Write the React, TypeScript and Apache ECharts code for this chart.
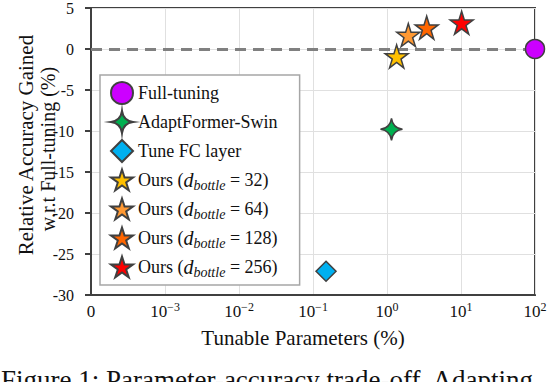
import React, { useEffect, useRef } from "react";
import * as echarts from "echarts";

const seriesNames = [
  "Full-tuning",
  "AdaptFormer-Swin",
  "Tune FC layer",
  "Ours (d_bottle = 32)",
  "Ours (d_bottle = 64)",
  "Ours (d_bottle = 128)",
  "Ours (d_bottle = 256)",
];
const tunableParams = [100, 1.15, 0.15, 1.35, 1.94, 3.44, 10.2];
const accuracyGained = [0, -9.8, -27.1, -0.9, 1.7, 2.6, 3.2];
const colors = ["#cc00ff", "#00b050", "#00b0f0", "#ffc000", "#ff9933", "#ff6600", "#ff0000"];
const symbolKinds = ["circle", "star4", "diamond", "star5", "star5", "star5", "star5"];
const yTicks = [-30, -25, -20, -15, -10, -5, 0, 5];
const xTickExponents = [null, -3, -2, -1, 0, 1, 2];

const STAR5 =
  "path://M50 0 L61.17 34.63 L97.55 34.55 L68.07 55.87 L79.39 90.45 L50 69 L20.61 90.45 L31.93 55.87 L2.45 34.55 L38.83 34.63 Z";
const STAR4 = "path://M50 0 Q56 44 100 50 Q56 56 50 100 Q44 56 0 50 Q44 44 50 0 Z";

const SERIF = "Liberation Serif, Times New Roman, serif";

// symlog-like position: 0 -> 0, 10^-3 -> 1, ..., 10^2 -> 6
const toPos = (v: number) => (v === 0 ? 0 : Math.log10(v) + 4);

export default function App() {
  const ref = useRef<HTMLDivElement>(null);
  useEffect(() => {
    if (!ref.current) return;
    const chart = echarts.init(ref.current, undefined, { renderer: "svg" });
    const symbolFor = (k: string) => (k === "star5" ? STAR5 : k === "star4" ? STAR4 : k);
    const sizeFor = (k: string) => (k === "circle" ? 19 : k === "diamond" ? 20 : k === "star4" ? 22 : 23);
    const series: any[] = seriesNames.map((name, i) => ({
      name,
      type: "scatter",
      data: [[toPos(tunableParams[i]), accuracyGained[i]]],
      symbol: symbolFor(symbolKinds[i]),
      symbolSize: sizeFor(symbolKinds[i]),
      itemStyle: { color: colors[i], borderColor: "#404040", borderWidth: 1.5, opacity: 1 },
      clip: false,
      z: 5,
    }));
    series[0].markLine = {
      silent: true,
      symbol: "none",
      label: { show: false },
      lineStyle: { type: [11, 7], color: "#808080", width: 3 },
      data: [{ yAxis: 0 }],
      z: 3,
    };
    chart.setOption({
      animation: false,
      textStyle: { fontFamily: SERIF },
      grid: {
        left: 91,
        right: 15,
        top: 6,
        bottom: 87,
        show: true,
        borderColor: "#404040",
        borderWidth: 2,
        containLabel: false,
      },
      xAxis: {
        type: "value",
        min: 0,
        max: 6,
        interval: 1,
        axisLine: { show: true, onZero: false, lineStyle: { color: "#404040", width: 2 } },
        axisTick: { show: false },
        splitLine: { show: true, lineStyle: { color: "#e0e0e0", width: 1 } },
        axisLabel: {
          margin: 6,
          color: "#111",
          fontFamily: SERIF,
          formatter: (v: number) => {
            const e = xTickExponents[Math.round(v)];
            if (e === null || e === undefined) return "{b|0}";
            return `{b|10}{s|${e < 0 ? "\u2212" : ""}${Math.abs(e)}}`;
          },
          rich: {
            b: { fontFamily: SERIF, fontSize: 17, color: "#111", lineHeight: 19, verticalAlign: "bottom" },
            s: { fontFamily: SERIF, fontSize: 12, color: "#111", lineHeight: 19, verticalAlign: "top" },
          },
        },
      },
      yAxis: {
        type: "value",
        min: yTicks[0],
        max: yTicks[yTicks.length - 1],
        interval: 5,
        axisLine: { show: true, lineStyle: { color: "#404040", width: 2 } },
        axisTick: { show: true, length: 6, inside: false, lineStyle: { color: "#404040", width: 2 } },
        splitLine: { show: true, lineStyle: { color: "#e0e0e0", width: 1 } },
        axisLabel: {
          margin: 17,
          color: "#111",
          fontFamily: SERIF,
          fontSize: 16,
          formatter: (v: number) => String(v),
        },
      },
      legend: {
        orient: "vertical",
        left: 100,
        top: 75,
        padding: [6, 22, 6, 10],
        itemWidth: 22,
        itemHeight: 22,
        itemGap: 5,
        backgroundColor: "#ffffff",
        borderColor: "#a6a6a6",
        borderWidth: 1.5,
        borderRadius: 0,
        data: seriesNames,
        formatter: (name: string) => name.replace("d_bottle", "{it|d}{sub|bottle}"),
        textStyle: {
          fontFamily: SERIF,
          fontSize: 18,
          color: "#111",
          lineHeight: 24,
          rich: {
            it: { fontFamily: SERIF, fontStyle: "italic", fontSize: 20, color: "#111", lineHeight: 24 },
            sub: {
              fontFamily: SERIF,
              fontStyle: "italic",
              fontSize: 14,
              color: "#111",
              lineHeight: 14,
              verticalAlign: "bottom",
            },
          },
        },
        z: 10,
      },
      graphic: [
        {
          type: "text",
          x: 26,
          y: 145,
          rotation: Math.PI / 2,
          style: {
            text: "Relative Accuracy Gained",
            fontFamily: SERIF,
            fontSize: 21,
            fill: "#111",
            align: "center",
            verticalAlign: "middle",
          },
        },
        {
          type: "text",
          x: 48,
          y: 149,
          rotation: Math.PI / 2,
          style: {
            text: "w.r.t Full-tuning (%)",
            fontFamily: SERIF,
            fontSize: 20,
            fill: "#111",
            align: "center",
            verticalAlign: "middle",
          },
        },
        {
          type: "text",
          x: 303,
          y: 338,
          style: {
            text: "Tunable Parameters (%)",
            fontFamily: SERIF,
            fontSize: 21,
            fill: "#111",
            align: "center",
            verticalAlign: "middle",
          },
        },
        {
          type: "text",
          x: 1,
          y: 366,
          style: {
            text: "Figure 1: Parameter-accuracy trade-off. Adapting",
            fontFamily: SERIF,
            fontSize: 27,
            fill: "#111",
            align: "left",
            verticalAlign: "top",
          },
        },
      ],
      series,
    });
    return () => chart.dispose();
  }, []);
  return <div ref={ref} style={{ width: 550, height: 382, position: "absolute", left: 0, top: 0 }} />;
}
